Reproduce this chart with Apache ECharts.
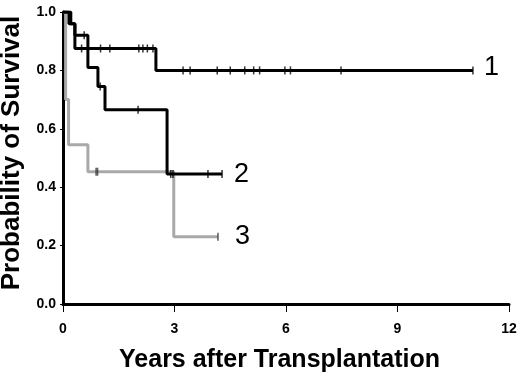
<!DOCTYPE html>
<html>
<head>
<meta charset="utf-8">
<script src="https://cdn.jsdelivr.net/npm/echarts@6/dist/echarts.min.js"></script>
<style>
  html, body { margin: 0; padding: 0; background: #fff; }
  #chart { width: 520px; height: 375px; }
</style>
</head>
<body>
<div id="chart"></div>
<script>
// Kaplan-Meier style survival curves
// times (years) where each step starts, and survival after the step
var g1Times = [0, 0.21, 0.32, 2.5, 11.03];
var g1Surv  = [1.0, 0.96, 0.875, 0.80, 0.80];
var g2Times = [0, 0.16, 0.32, 0.67, 0.94, 1.13, 2.8, 4.28];
var g2Surv  = [1.0, 0.96, 0.92, 0.81, 0.745, 0.665, 0.445, 0.445];
var g3Times = [0, 0.07, 0.15, 0.67, 2.98, 4.17];
var g3Surv  = [1.0, 0.70, 0.545, 0.453, 0.23, 0.23];

// censored observations [year, survival]
var g1Cens = [[0.5, 0.875], [1.01, 0.875], [1.26, 0.875], [2.04, 0.875], [2.15, 0.875],
              [2.27, 0.875], [2.42, 0.875], [3.23, 0.8], [3.42, 0.8], [4.15, 0.8],
              [4.5, 0.8], [4.89, 0.8], [5.13, 0.8], [5.29, 0.8], [5.97, 0.8],
              [6.12, 0.8], [7.48, 0.8], [11.03, 0.8]];
var g2Cens = [[0.57, 0.92], [1.0, 0.745], [2.02, 0.665], [2.9, 0.445], [2.96, 0.445],
              [3.9, 0.445], [4.28, 0.445]];
var g3Cens = [[0.89, 0.453], [0.93, 0.453], [4.17, 0.23]];

var groupNames = ['1', '2', '3'];
var xTicks = [0, 3, 6, 9, 12];

function pairs(t, s) {
    var out = [];
    for (var i = 0; i < t.length; i++) out.push([t[i], s[i]]);
    return out;
}

var font = '"Liberation Sans", Arial, sans-serif';

function curve(name, t, s, color, dist, dy) {
    return {
        name: name,
        type: 'line',
        step: 'end',
        data: pairs(t, s),
        showSymbol: false,
        lineStyle: { color: color, width: 3 },
        z: color === '#000' ? 3 : 2,
        endLabel: {
            show: true,
            formatter: name,
            distance: dist,
            offset: [0, dy],
            color: '#000',
            fontFamily: font,
            fontSize: 27
        }
    };
}

function censor(data, color) {
    return {
        type: 'scatter',
        data: data,
        symbol: 'rect',
        symbolSize: [1.5, 8],
        itemStyle: { color: color },
        z: 4
    };
}

var chart = echarts.init(document.getElementById('chart'));
var option = {
    animation: false,
    backgroundColor: '#fff',
    grid: { left: 63, right: 11, top: 12, bottom: 71, outerBoundsMode: 'none', containLabel: false },
    xAxis: {
        type: 'value',
        min: xTicks[0],
        max: xTicks[xTicks.length - 1],
        interval: 3,
        name: 'Years after Transplantation',
        nameLocation: 'middle',
        nameGap: 44,
        nameTextStyle: { fontFamily: font, fontWeight: 'bold', fontSize: 25, color: '#000', padding: [0, 13, 0, 0] },
        axisLine: { lineStyle: { color: '#000', width: 3 } },
        axisTick: { length: 8, lineStyle: { color: '#000', width: 1 } },
        axisLabel: { margin: 18, fontFamily: font, fontWeight: 'bold', fontSize: 14, color: '#000' },
        splitLine: { show: false }
    },
    yAxis: {
        type: 'value',
        min: 0,
        max: 1,
        interval: 0.2,
        name: 'Probability of Survival',
        nameLocation: 'middle',
        nameGap: 38,
        nameTextStyle: { fontFamily: font, fontWeight: 'bold', fontSize: 26, color: '#000', padding: [0, 0, 0, 10] },
        axisLine: { show: true, lineStyle: { color: '#000', width: 3 } },
        axisTick: { show: true, length: 3, lineStyle: { color: '#000', width: 1 } },
        axisLabel: {
            margin: 7, fontFamily: font, fontWeight: 'bold', fontSize: 14, color: '#000',
            formatter: function (v) { return v.toFixed(1); }
        },
        splitLine: { show: false }
    },
    series: [
        curve(groupNames[2], g3Times, g3Surv, '#a9a9a9', 17, 0),
        curve(groupNames[1], g2Times, g2Surv, '#000', 12, 0),
        curve(groupNames[0], g1Times, g1Surv, '#000', 11, -3),
        censor(g1Cens, '#000'),
        censor(g2Cens, '#000'),
        censor(g3Cens, '#333')
    ]
};
chart.setOption(option);
</script>
</body>
</html>
